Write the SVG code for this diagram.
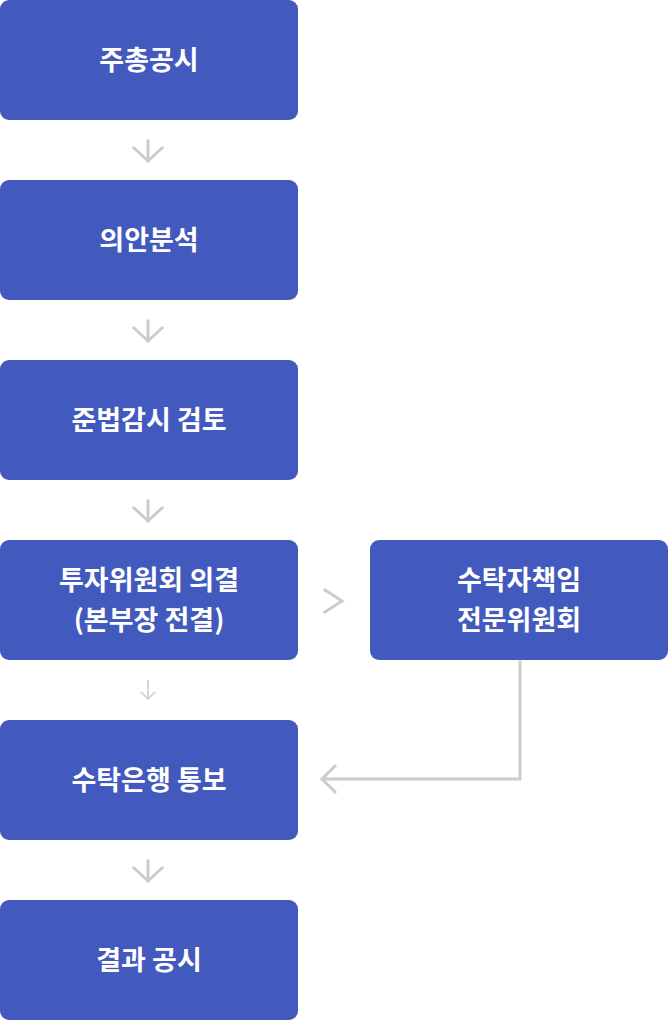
<svg xmlns="http://www.w3.org/2000/svg" width="668" height="1020" viewBox="0 0 668 1020">
<style>
.box{fill:#4259BD}
.t{fill:#fff;font-family:"Noto Sans CJK KR","Noto Sans",sans-serif;font-weight:700;font-size:27px;text-anchor:middle}
.ln{fill:none;stroke:#CCCCCC;stroke-width:3;stroke-linecap:square;stroke-linejoin:miter}
.thin{fill:none;stroke:#CCCCCC;stroke-width:1.5}
</style>
<rect width="668" height="1020" fill="#fff"/>
<g id="connectors">
<path class="ln" d="M148 141V161M134 148L148 161L162 148"/>
<path class="ln" d="M148 321V341M134 328L148 341L162 328"/>
<path class="ln" d="M148 501V521M134 508L148 521L162 508"/>
<path class="thin" d="M148 680V699M141 692L148 699L155 692"/>
<path class="ln" d="M325 590L342 601L325 612"/>
<path class="ln" d="M148 861V881M134 868L148 881L162 868"/>
<path class="ln" d="M520 662V779H322M335 766L322 779L335 792"/>
</g>
<g id="n1"><rect class="box" x="0" y="0" width="298" height="120" rx="9"/><text class="t" x="149" y="70">주총공시</text></g>
<g id="n2"><rect class="box" x="0" y="180" width="298" height="120" rx="9"/><text class="t" x="149" y="250">의안분석</text></g>
<g id="n3"><rect class="box" x="0" y="360" width="298" height="120" rx="9"/><text class="t" x="149" y="430">준법감시 검토</text></g>
<g id="n4"><rect class="box" x="0" y="540" width="298" height="120" rx="9"/><text class="t" x="149" y="590">투자위원회 의결</text><text class="t" x="149" y="630">(본부장 전결)</text></g>
<g id="n5"><rect class="box" x="370" y="540" width="298" height="120" rx="9"/><text class="t" x="519" y="590">수탁자책임</text><text class="t" x="519" y="630">전문위원회</text></g>
<g id="n6"><rect class="box" x="0" y="720" width="298" height="120" rx="9"/><text class="t" x="149" y="790">수탁은행 통보</text></g>
<g id="n7"><rect class="box" x="0" y="900" width="298" height="120" rx="9"/><text class="t" x="149" y="970">결과 공시</text></g>
</svg>
